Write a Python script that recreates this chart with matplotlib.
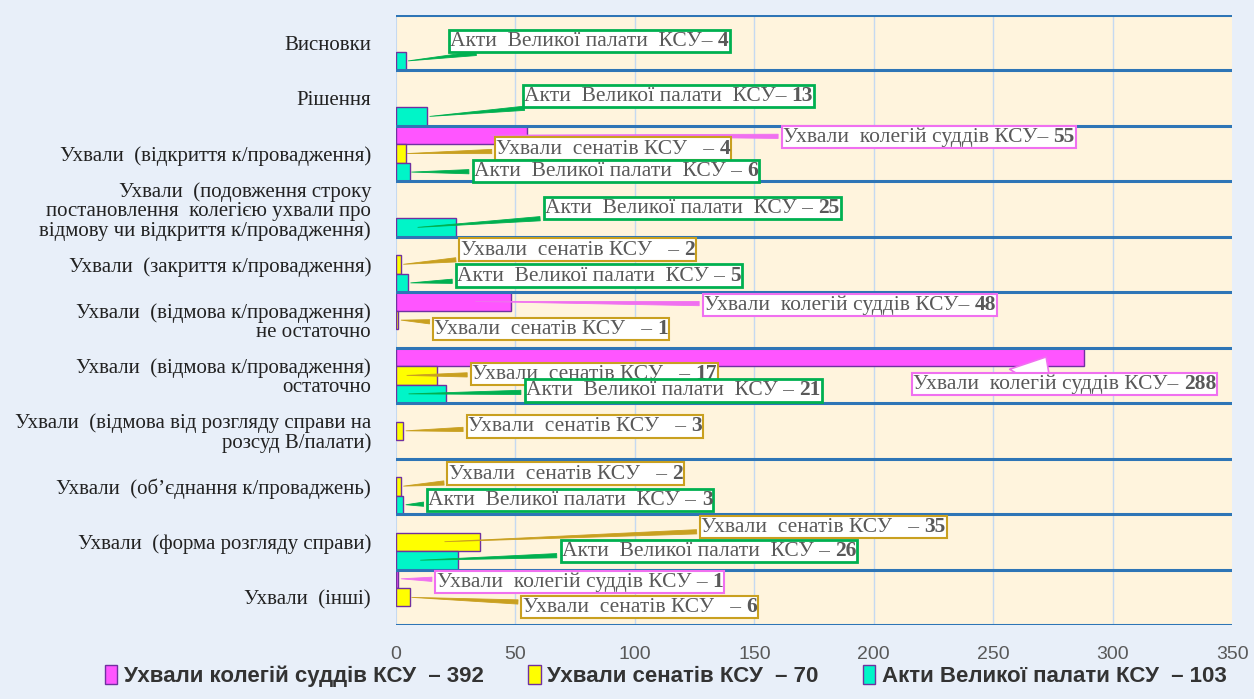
import matplotlib.pyplot as plt
from matplotlib.patches import Patch
from matplotlib.offsetbox import TextArea, HPacker, AnnotationBbox
import numpy as np

categories = [
    'Висновки',
    'Рішення',
    'Ухвали  (відкриття к/провадження)',
    'Ухвали  (подовження строку\nпостановлення  колегією ухвали про\nвідмову чи відкриття к/провадження)',
    'Ухвали  (закриття к/провадження)',
    'Ухвали  (відмова к/провадження)\nне остаточно',
    'Ухвали  (відмова к/провадження)\nостаточно',
    'Ухвали  (відмова від розгляду справи на\nрозсуд В/палати)',
    'Ухвали  (об’єднання к/проваджень)',
    'Ухвали  (форма розгляду справи)',
    'Ухвали  (інші)',
]
kolegii = [0, 0, 55, 0, 0, 48, 288, 0, 0, 0, 1]
senaty = [0, 0, 4, 0, 2, 1, 17, 3, 2, 35, 6]
velyka = [4, 13, 6, 25, 5, 0, 21, 0, 3, 26, 0]
series_names = ['Ухвали колегій суддів КСУ', 'Ухвали сенатів КСУ', 'Акти Великої палати КСУ']
totals = [392, 70, 103]
xticks = [0, 50, 100, 150, 200, 250, 300, 350]

fill_colors = ['#FF55FF', '#FFFF00', '#00F5C8']
box_colors = ['#F070F0', '#C9A020', '#00B050']
edge = '#7030A0'
txt_gray = '#595959'

# callout labels: (series, category, prefix, box centre x, box centre y, tip fraction)
callouts = [
    (2, 0, 'Акти  Великої палати  КСУ– ', 81, -0.03, 1.0),
    (2, 1, 'Акти  Великої палати  КСУ– ', 114, 0.96, 1.0),
    (0, 2, 'Ухвали  колегій суддів КСУ– ', 223, 1.70, 0.7),
    (1, 2, 'Ухвали  сенатів КСУ   – ', 91, 1.91, 0.9),
    (2, 2, 'Акти  Великої палати  КСУ – ', 92, 2.31, 0.9),
    (2, 3, 'Акти  Великої палати  КСУ – ', 124, 2.98, 0.32),
    (1, 4, 'Ухвали  сенатів КСУ   – ', 76, 3.73, 1.0),
    (2, 4, 'Акти  Великої палати  КСУ – ', 85, 4.20, 1.0),
    (0, 5, 'Ухвали  колегій суддів КСУ– ', 190, 4.73, 0.67),
    (1, 5, 'Ухвали  сенатів КСУ   – ', 65, 5.16, 1.0),
    (0, 6, 'Ухвали  колегій суддів КСУ– ', 280, 6.15, 0.945),
    (1, 6, 'Ухвали  сенатів КСУ   – ', 83, 5.97, 0.2),
    (2, 6, 'Акти  Великої палати  КСУ – ', 116, 6.27, 0.2),
    (1, 7, 'Ухвали  сенатів КСУ   – ', 79, 6.92, 1.0),
    (1, 8, 'Ухвали  сенатів КСУ   – ', 71, 7.77, 1.0),
    (2, 8, 'Акти  Великої палати  КСУ – ', 73, 8.24, 1.0),
    (1, 9, 'Ухвали  сенатів КСУ   – ', 179, 8.73, 0.55),
    (2, 9, 'Акти  Великої палати  КСУ – ', 131, 9.16, 0.35),
    (0, 10, 'Ухвали  колегій суддів КСУ – ', 77, 9.72, 1.0),
    (1, 10, 'Ухвали  сенатів КСУ   – ', 102, 10.18, 0.9),
]

serif = ['Liberation Serif', 'DejaVu Serif']
sans = ['Liberation Sans', 'DejaVu Sans']

fig = plt.figure(figsize=(12.54, 6.99), dpi=100, facecolor='#E8EFF9')
ax = fig.add_axes([0.3158, 0.1059, 0.6667, 0.8727])
ax.set_facecolor('#FFF4DD')

data = [kolegii, senaty, velyka]
y = np.arange(len(categories))
h = 1 / 3
for j, vals in enumerate(data):
    bars = ax.barh(y + (j - 1) * h, vals, height=h, color=fill_colors[j],
                   edgecolor=edge, linewidth=1, zorder=3)
    for b, v in zip(bars, vals):
        if v == 0:
            b.set_visible(False)

for s in np.arange(-0.5, len(categories), 1):
    ax.axhline(s, color='#2E75B6', lw=2.2, zorder=4)
for xv in xticks[1:-1]:
    ax.axvline(xv, color='#C5D9F1', lw=1, zorder=1)
ax.axvline(0, color='#C5D9F1', lw=1.5, zorder=1)

ax.set_xlim(0, 350)
ax.set_ylim(len(categories) - 0.5, -0.5)
ax.set_yticks(y)
ax.set_yticklabels(categories, family=serif, fontsize=15, color='#222222', linespacing=1.0)
ax.set_xticks(xticks)
ax.set_xticklabels([str(v) for v in xticks], family=sans, fontsize=14, color=txt_gray)
ax.tick_params(axis='y', length=0, pad=18)
ax.tick_params(axis='x', length=0, pad=15)
for sp in ax.spines.values():
    sp.set_visible(False)

for j, cat, prefix, bx, by, frac in callouts:
    val = data[j][cat]
    tip = (val * frac, cat + (j - 1) * h)
    t1 = TextArea(prefix, textprops=dict(family=serif, fontsize=15.5, color=txt_gray))
    t2 = TextArea(str(val), textprops=dict(family=serif, fontsize=15.5, color=txt_gray, weight='bold'))
    pack = HPacker(children=[t1, t2], pad=0, sep=0, align='baseline')
    if j == 0 and cat == 6:
        # big white pointer going up into the long bar, base hidden by the box
        ax.annotate('', xy=tip, xytext=(tip[0] - 6.3, by - 0.03), xycoords='data',
                    arrowprops=dict(arrowstyle='wedge,tail_width=3.6', mutation_scale=10,
                                    fc='white', ec=box_colors[j], lw=1.2,
                                    shrinkA=0, shrinkB=0),
                    zorder=5, annotation_clip=False)
        arrow = None
    else:
        arrow = dict(arrowstyle='wedge,tail_width=0.22', fc=box_colors[j], ec=box_colors[j], lw=0.6)
    ab = AnnotationBbox(pack, tip, xybox=(bx, by), xycoords='data', boxcoords='data',
                        frameon=True, pad=0.08,
                        bboxprops=dict(boxstyle='square,pad=0.08', fc='white',
                                       ec=box_colors[j], lw=2 if j == 2 else 1.5),
                        arrowprops=arrow, zorder=6)
    ab.set_clip_on(False)
    ax.add_artist(ab)

handles = [Patch(facecolor=fill_colors[j], edgecolor=edge, lw=1) for j in range(3)]
labels = [f'{series_names[j]}  – {totals[j]}' for j in range(3)]
leg = fig.legend(handles, labels, loc='lower center', bbox_to_anchor=(0.531, -0.012), ncol=3,
                 frameon=False, handlelength=0.55, handleheight=0.9, handletextpad=0.3,
                 columnspacing=2.0, prop=dict(family=sans, size=16, weight='bold'))
for t in leg.get_texts():
    t.set_color('#333333')

fig.savefig('out.png', dpi=100, facecolor=fig.get_facecolor())
